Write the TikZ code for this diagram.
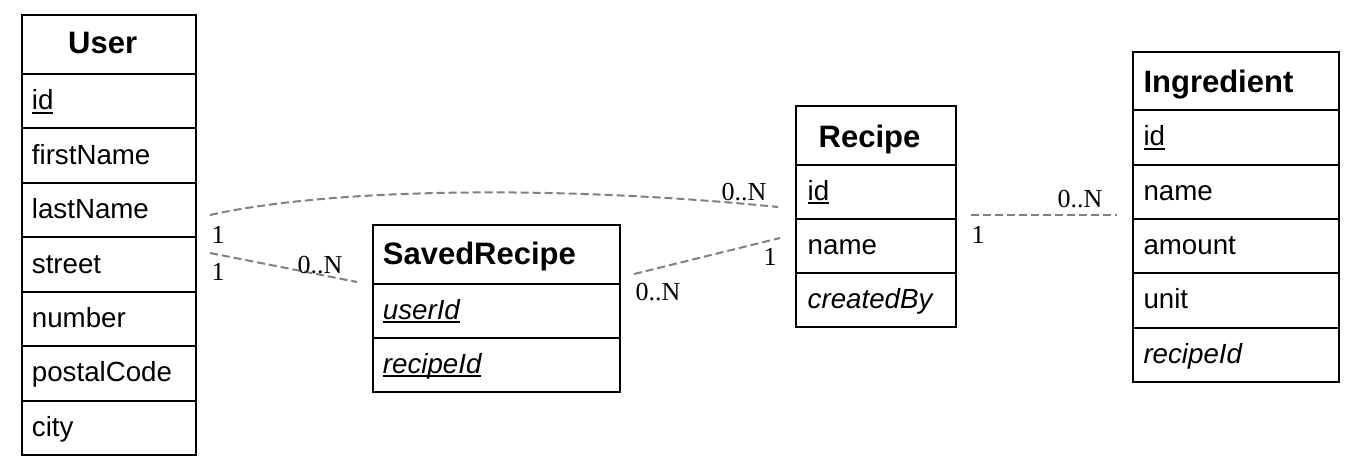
\documentclass[tikz,border=0pt]{standalone}
\usepackage{fontspec}
\setmainfont{Liberation Sans}
\newfontfamily\lblfont{Liberation Serif}
\usetikzlibrary{calc}
\definecolor{relgray}{RGB}{128,128,128}
\newcommand\undl[1]{\setbox0\hbox{#1}\rlap{\rule[-4pt]{\wd0}{2pt}}\box0}
% name, x, y, w, h, left padding, text
\newcommand\ercell[7]{%
  \node[cell, minimum width=#4pt, minimum height=#5pt] (#1) at (#2,#3) {};
  \node[rowtxt] (#1t) at ($(#1.north west)+(#6,#5/2+9.5)$) {#7};}
\begin{document}
\begin{tikzpicture}[x=1pt,y=-1pt,
  cell/.style={draw=black, line width=2pt, inner sep=0pt, anchor=north west},
  rowtxt/.style={anchor=base west, inner sep=0pt, font=\fontsize{27.7}{30}\selectfont},
  headtxt/.style={anchor=base west, inner sep=0pt, font=\fontsize{31}{34}\selectfont\bfseries},
  rel/.style={draw=relgray, dash pattern=on 8pt off 4pt, line width=2pt},
  mult/.style={anchor=base, inner sep=0pt, font=\lblfont\fontsize{26}{28}\selectfont}]
\useasboundingbox (0,0) rectangle (1361,472);

% ---------- User ----------
\node[cell, minimum width=174pt, minimum height=59pt] (uh) at (21,14) {};
\node[headtxt] (uht) at (68,53.3) {User};
\ercell{u1}{21}{73}{174}{54.43}{10.7}{\undl{id}}
\ercell{u2}{21}{127.43}{174}{54.43}{10.7}{firstName}
\ercell{u3}{21}{181.86}{174}{54.43}{10.7}{lastName}
\ercell{u4}{21}{236.29}{174}{54.43}{10.7}{street}
\ercell{u5}{21}{290.71}{174}{54.43}{10.7}{number}
\ercell{u6}{21}{345.14}{174}{54.43}{10.7}{postalCode}
\ercell{u7}{21}{399.57}{174}{54.43}{10.7}{city}

% ---------- SavedRecipe ----------
\node[cell, minimum width=247pt, minimum height=58.5pt] (sh) at (372,224) {};
\node[headtxt] (sht) at (382.7,264.5) {SavedRecipe};
\ercell{s1}{372}{282.5}{247}{54.25}{10.7}{\textit{\undl{userId}}}
\ercell{s2}{372}{336.75}{247}{54.25}{10.7}{\textit{\undl{recipeId}}}

% ---------- Recipe ----------
\node[cell, minimum width=160pt, minimum height=58.5pt] (rh) at (795,105) {};
\node[headtxt] (rht) at (818.5,147) {Recipe};
\ercell{r1}{795}{163.5}{160}{54.17}{12.5}{\undl{id}}
\ercell{r2}{795}{217.67}{160}{54.17}{12.5}{name}
\ercell{r3}{795}{271.83}{160}{54.17}{12.5}{\textit{createdBy}}

% ---------- Ingredient ----------
\node[cell, minimum width=206pt, minimum height=58.7pt] (ih) at (1132,50.5) {};
\node[headtxt] (iht) at (1143.3,92.7) {Ingredient};
\ercell{i1}{1132}{109.2}{206}{54.36}{11.3}{\undl{id}}
\ercell{i2}{1132}{163.56}{206}{54.36}{11.3}{name}
\ercell{i3}{1132}{217.92}{206}{54.36}{11.3}{amount}
\ercell{i4}{1132}{272.28}{206}{54.36}{11.3}{unit}
\ercell{i5}{1132}{326.64}{206}{54.36}{11.3}{\textit{recipeId}}

% ---------- Relations ----------
\coordinate (a1) at (210,215);  \coordinate (a2) at (778,207);
\coordinate (b1) at (210,253);  \coordinate (b2) at (357,282);
\coordinate (c1) at (634,274);  \coordinate (c2) at (780,238);
\coordinate (d1) at (971,215);  \coordinate (d2) at (1117,215);

\draw[rel] (a1) .. controls (330,188) and (560,185) .. (a2);
\draw[rel] (b1) -- (b2);
\draw[rel] (c1) -- (c2);
\draw[rel] (d1) -- (d2);

\node[mult] (ma1) at (218,243) {1};
\node[mult] (ma2) at (744,200) {0..N};
\node[mult] (mb1) at (218,280) {1};
\node[mult] (mb2) at (320,273) {0..N};
\node[mult] (mc1) at (658,300) {0..N};
\node[mult] (mc2) at (770,265) {1};
\node[mult] (md1) at (978,243) {1};
\node[mult] (md2) at (1080,207) {0..N};
\end{tikzpicture}
\end{document}
